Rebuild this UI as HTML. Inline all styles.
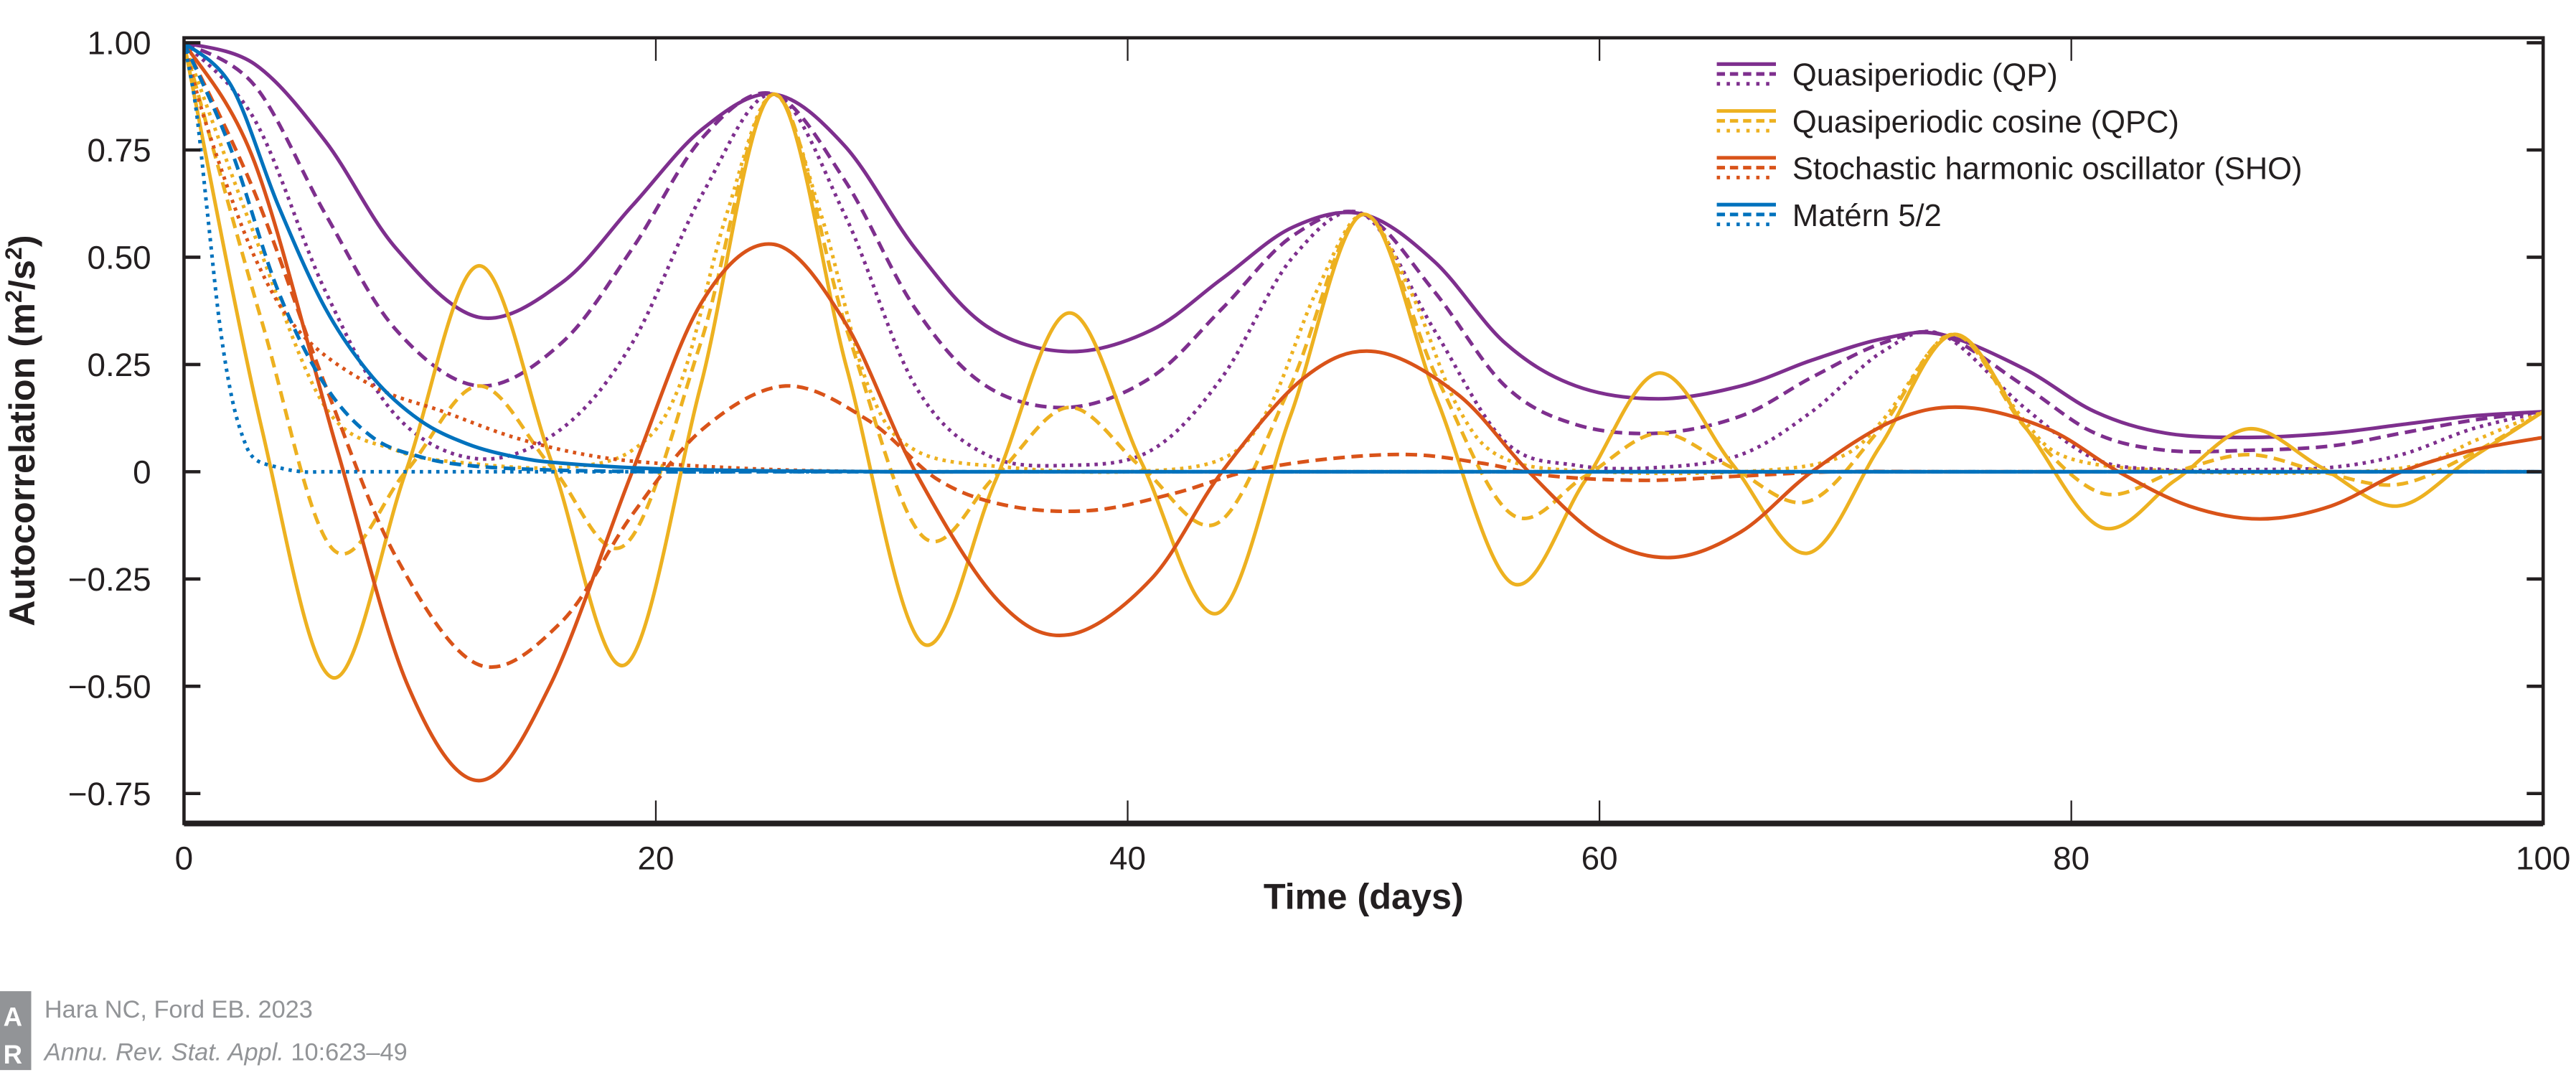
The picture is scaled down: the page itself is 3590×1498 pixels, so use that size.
<!DOCTYPE html>
<html><head><meta charset="utf-8"><style>
html,body{margin:0;padding:0;background:#fff;}
svg{display:block;font-family:"Liberation Sans",sans-serif;}
</style></head><body>
<svg id="chart" width="3590" height="1498" viewBox="0 0 1568 654" preserveAspectRatio="none" xmlns="http://www.w3.org/2000/svg">
<defs><clipPath id="clip"><rect x="112" y="10" width="1436" height="491"/></clipPath></defs>
<g id="plot" clip-path="url(#clip)"></g>
<g id="axes"></g>
<text x="830" y="553" text-anchor="middle" font-size="22" font-weight="bold" fill="#231f20">Time (days)</text>
<text transform="translate(21,262) rotate(-90)" text-anchor="middle" font-size="22" font-weight="bold" fill="#231f20">Autocorrelation (m<tspan font-size="14" dy="-8">2</tspan><tspan dy="8">/s</tspan><tspan font-size="14" dy="-8">2</tspan><tspan dy="8">)</tspan></text>
<g id="legend"></g>
<g>
<rect x="0" y="603" width="19" height="48" fill="#929497"/>
<text x="2" y="624" font-size="16" fill="#fff" font-weight="bold">A</text>
<text x="2" y="647" font-size="16" fill="#fff" font-weight="bold">R</text>
<text x="27" y="619" font-size="15" fill="#929497">Hara NC, Ford EB. 2023</text>
<text x="27" y="645" font-size="15" fill="#929497"><tspan font-style="italic">Annu. Rev. Stat. Appl.</tspan> 10:623–49</text>
</g>
</svg>
<script>
const xTicks=[0,20,40,60,80,100];
const yTicks=[1,0.75,0.5,0.25,0,-0.25,-0.5,-0.75];
const yTickLabels=["1.00","0.75","0.50","0.25","0","−0.25","−0.50","−0.75"];
const seriesNames=["Quasiperiodic (QP)","Quasiperiodic cosine (QPC)","Stochastic harmonic oscillator (SHO)","Matérn 5/2"];
const qpSolidT=[0,3,6,9,12.5,16,19,22,25,28,31,34,37.5,41,44,47,50,53,56,59,62.5,66,69,72,74.5,78,81,84,87.5,91,94,97,100];
const qpSolidV=[1,0.95,0.77,0.52,0.36,0.44,0.62,0.8,0.88,0.76,0.52,0.34,0.28,0.33,0.45,0.57,0.6,0.49,0.3,0.2,0.17,0.2,0.26,0.31,0.32,0.24,0.14,0.09,0.08,0.09,0.11,0.13,0.14];
const qpDashT=qpSolidT;
const qpDashV=[1,0.9,0.6,0.33,0.2,0.3,0.52,0.78,0.88,0.68,0.38,0.2,0.15,0.22,0.38,0.55,0.6,0.42,0.2,0.11,0.09,0.13,0.22,0.3,0.32,0.2,0.09,0.05,0.05,0.06,0.09,0.12,0.14];
const qpDotT=qpSolidT;
const qpDotV=[1,0.82,0.42,0.13,0.03,0.1,0.3,0.65,0.88,0.6,0.2,0.04,0.015,0.05,0.22,0.5,0.6,0.33,0.07,0.015,0.01,0.04,0.14,0.28,0.32,0.15,0.03,0.005,0.005,0.01,0.04,0.1,0.14];
const qpcSolidT=[0,3.3,6.3,9.4,12.5,15.6,18.7,21.9,25,28.1,31.3,34.4,37.5,40.6,43.8,46.9,50,53.1,56.3,59.4,62.5,65.6,68.8,71.9,75,78.1,81.3,84.4,87.5,90.6,93.8,96.9,100];
const qpcSolidV=[1,0.1,-0.48,0,0.48,0.02,-0.45,0.2,0.88,0.24,-0.4,-0.02,0.37,0.02,-0.33,0.13,0.6,0.17,-0.26,-0.02,0.23,0.02,-0.19,0.06,0.32,0.1,-0.13,-0.02,0.1,0.01,-0.08,0.03,0.14];
const qpcDashT=qpcSolidT;
const qpcDashV=[1,0.35,-0.18,0,0.2,0.01,-0.17,0.3,0.88,0.33,-0.15,-0.01,0.15,0.01,-0.12,0.2,0.6,0.22,-0.1,-0.01,0.09,0.01,-0.07,0.1,0.32,0.1,-0.05,0,0.04,0,-0.03,0.04,0.14];
const qpcDotT=[0,3,6,9,12,16,19,21,23,25,27,29,31,35,40,44,46,48,50,52,54,56,60,66,70,72,74,75,76,78,80,85,92,95,97,100];
const qpcDotV=[1,0.55,0.15,0.05,0.02,0.01,0.05,0.2,0.6,0.88,0.6,0.2,0.05,0.01,0,0.03,0.15,0.42,0.6,0.42,0.15,0.03,0,0,0.03,0.12,0.28,0.32,0.28,0.12,0.03,0,0,0.02,0.07,0.14];
const shoSolidT=[0,3,6.5,9.5,12.5,15.5,19,22,25,28,31,34.5,37.5,41,44,47.5,50.5,54,57,60,63,66,69,72.5,75.5,79,82,85,88,91,94,97,100];
const shoSolidV=[1,0.72,0.05,-0.5,-0.72,-0.5,0,0.4,0.53,0.35,0,-0.3,-0.38,-0.25,0,0.22,0.28,0.18,0,-0.15,-0.2,-0.14,0,0.12,0.15,0.1,0,-0.08,-0.11,-0.08,0,0.05,0.08];
const shoDashT=[0,3,6,9,12.5,16,19,22,25.5,29,32,35,38.5,42,45,48.5,52,55,58,62,66,70,75,80,85,90,95,100];
const shoDashV=[1,0.65,0.2,-0.2,-0.45,-0.35,-0.1,0.1,0.2,0.12,-0.02,-0.08,-0.09,-0.05,0,0.03,0.04,0.02,-0.01,-0.02,-0.01,0,0,0,0,0,0,0];
const shoDotT=[0,1,3,5,8,11,14,17,20,25,30,35,40,50,60,70,80,90,100];
const shoDotV=[1,0.8,0.5,0.32,0.2,0.14,0.08,0.04,0.02,0.005,0,0,0,0,0,0,0,0,0];
const matSolidT=[0,2,4,6,8,10,12,14,16,20,25,30,35,40,50,60,70,80,90,100];
const matSolidV=[1,0.9,0.62,0.38,0.22,0.12,0.065,0.035,0.02,0.007,0.002,0,0,0,0,0,0,0,0,0];
const matDashT=[0,2,4,6,8,10,12,15,20,25,30,40,50,60,70,80,90,100];
const matDashV=[1,0.75,0.42,0.2,0.08,0.035,0.015,0.005,0,0,0,0,0,0,0,0,0,0];
const matDotT=[0,0.5,1,1.5,2,2.5,3,4,5,6,8,10,15,20,30,40,50,60,70,80,90,100];
const matDotV=[1,0.85,0.6,0.35,0.18,0.08,0.03,0.01,0,0,0,0,0,0,0,0,0,0,0,0,0,0];

const NS="http://www.w3.org/2000/svg";
const L=112,R=1548,T=23,B=501;
const xs=t=>L+t*(R-L)/100;
const ys=v=>287-v*261;
function mk(tag,attrs,parent){const e=document.createElementNS(NS,tag);for(const k in attrs)e.setAttribute(k,attrs[k]);parent.appendChild(e);return e;}
function pathD(T_,V_){const p=T_.map((t,i)=>[xs(t),ys(V_[i])]);let d="M"+p[0][0]+","+p[0][1];
for(let i=0;i<p.length-1;i++){const p0=p[Math.max(0,i-1)],p1=p[i],p2=p[i+1],p3=p[Math.min(p.length-1,i+2)];
const c1=[p1[0]+(p2[0]-p0[0])/6,p1[1]+(p2[1]-p0[1])/6],c2=[p2[0]-(p3[0]-p1[0])/6,p2[1]-(p3[1]-p1[1])/6];
d+=" C"+c1+" "+c2+" "+p2;}return d;}
const plot=document.getElementById('plot');
const COLORS=["#7e2f8e","#edb120","#d95319","#0072bd"];
const DASH={solid:"",dash:"7 4",dot:"2 3"};
const series=[
["qp-solid",qpSolidT,qpSolidV,0,"solid"],["qp-dashed",qpDashT,qpDashV,0,"dash"],["qp-dotted",qpDotT,qpDotV,0,"dot"],
["qpc-solid",qpcSolidT,qpcSolidV,1,"solid"],["qpc-dashed",qpcDashT,qpcDashV,1,"dash"],["qpc-dotted",qpcDotT,qpcDotV,1,"dot"],
["sho-solid",shoSolidT,shoSolidV,2,"solid"],["sho-dashed",shoDashT,shoDashV,2,"dash"],["sho-dotted",shoDotT,shoDotV,2,"dot"],
["matern-solid",matSolidT,matSolidV,3,"solid"],["matern-dashed",matDashT,matDashV,3,"dash"],["matern-dotted",matDotT,matDotV,3,"dot"]];
const order=[0,1,2,3,4,5,6,7,8,11,10,9];
order.forEach(i=>{const s=series[i];
const el=mk('path',{d:pathD(s[1],s[2]),fill:"none",stroke:COLORS[s[3]],"stroke-width":2.2,"stroke-dasharray":DASH[s[4]]},plot);


});
const ax=document.getElementById('axes');
const fr=mk('rect',{x:L,y:T,width:R-L,height:B-T,fill:"none",stroke:"#231f20","stroke-width":2},ax);


const bl=mk('line',{x1:L,y1:B,x2:R,y2:B,stroke:"#231f20","stroke-width":3.5},ax);


xTicks.forEach(t=>{
mk('line',{x1:xs(t),y1:B,x2:xs(t),y2:B-14,stroke:"#231f20","stroke-width":1},ax);
mk('line',{x1:xs(t),y1:T,x2:xs(t),y2:T+14,stroke:"#231f20","stroke-width":1},ax);
const tx=mk('text',{x:xs(t),y:529,"text-anchor":"middle","font-size":20,fill:"#231f20"},ax);tx.textContent=t;


});
yTicks.forEach((v,i)=>{
mk('line',{x1:L,y1:ys(v),x2:L+10,y2:ys(v),stroke:"#231f20","stroke-width":2},ax);
mk('line',{x1:R,y1:ys(v),x2:R-10,y2:ys(v),stroke:"#231f20","stroke-width":2},ax);
const tx=mk('text',{x:92,y:ys(v)+7,"text-anchor":"end","font-size":20,fill:"#231f20"},ax);tx.textContent=yTickLabels[i];


});
const lg=document.getElementById('legend');
seriesNames.forEach((n,i)=>{const y=45+i*28.5;
const g=mk('g',{},lg);


mk('line',{x1:1045,y1:y-6,x2:1081,y2:y-6,stroke:COLORS[i],"stroke-width":2.2},g);
mk('line',{x1:1045,y1:y,x2:1081,y2:y,stroke:COLORS[i],"stroke-width":2.2,"stroke-dasharray":"5 3"},g);
mk('line',{x1:1045,y1:y+6,x2:1081,y2:y+6,stroke:COLORS[i],"stroke-width":2.2,"stroke-dasharray":"2 4"},g);
const tx=mk('text',{x:1091,y:y+7,"font-size":19,fill:"#231f20"},g);tx.textContent=n;
});
</script>
</body></html>
